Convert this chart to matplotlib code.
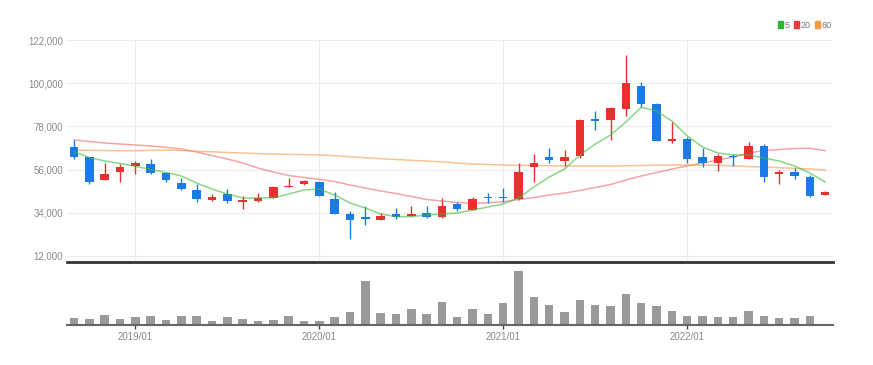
import matplotlib.pyplot as plt
from matplotlib.patches import Patch
from matplotlib.ticker import FuncFormatter

# monthly candles 2018/09 .. 2022/10
opens = [67500, 62300, 50700, 54770, 57830, 58850, 54110, 49320, 45610, 40510,
         43570, 39490, 40000, 41680, 47130, 48660, 49830, 41180, 33220, 31700,
         30330, 33380, 32510, 33740, 31850, 38320, 35420, 42190, 42190, 40870,
         57320, 62260, 60530, 63070, 81770, 81260, 86860, 98570, 89400, 70560,
         71580, 62260, 59200, 63070, 61540, 68020, 53600, 54930, 52070, 43060]
highs = [71100, 62500, 59360, 58700, 60530, 61240, 54930, 51560, 48510, 43420,
         46260, 42550, 43930, 47500, 51870, 50700, 50300, 44740, 34910, 37450,
         33740, 36280, 37450, 37450, 41380, 39650, 42190, 43930, 46480, 59200,
         63790, 66840, 65980, 81920, 85840, 88030, 114360, 100760, 89800, 80090,
         72440, 66840, 63940, 63940, 69900, 68880, 55790, 56660, 53240, 45100]
lows = [61400, 48660, 50450, 49830, 53750, 54000, 49830, 45610, 39340, 40250,
        39140, 36080, 39650, 41500, 46900, 48000, 42300, 33300, 20650, 27780,
        30100, 30680, 32300, 31190, 31500, 35070, 35200, 38830, 39650, 40500,
        49830, 59200, 57830, 62060, 76160, 71070, 83290, 88030, 70400, 69390,
        59200, 57170, 55440, 57830, 61300, 49830, 48510, 51050, 42200, 42900]
closes = [62400, 49830, 53750, 57470, 59200, 54420, 50700, 46260, 41180, 42040,
          40000, 40360, 41680, 47290, 47800, 50190, 42550, 33530, 30330, 30990,
          32510, 32000, 33380, 32000, 37450, 35780, 41020, 41380, 41380, 54620,
          59510, 60890, 62570, 81260, 80900, 87220, 99950, 89400, 70710, 71430,
          61390, 59200, 63070, 62260, 68170, 52070, 54770, 52730, 42550, 44590]
volume = [7.3, 5.7, 10.3, 5.7, 7.7, 9.3, 5.3, 9.0, 8.7, 3.7,
          7.7, 5.7, 3.7, 5.3, 9.0, 3.7, 4.3, 7.7, 12.7, 44.0,
          12.0, 11.0, 16.0, 11.0, 23.5, 7.7, 16.0, 11.0, 22.0, 54.0,
          27.7, 20.0, 12.7, 25.0, 20.0, 19.0, 31.0, 22.3, 19.0, 14.0,
          9.3, 9.3, 7.7, 7.7, 14.0, 9.0, 7.0, 6.7, 9.0, 1.0]
ma5 = [65110, 62160, 60375, 59100, 57675, 56046, 54518, 52735, 49170, 46114,
       43568, 41531, 41531, 41683, 43568, 45605, 46114, 43058, 38984, 36438,
       33382, 32007, 32007, 32872, 33382, 33891, 35419, 36947, 38475, 41531,
       47133, 52226, 56300, 63430, 69033, 73616, 80237, 87724, 85840, 80747,
       73107, 67505, 64449, 63430, 63430, 61903, 60375, 57828, 54263, 49679]
ma20 = [71070, 70306, 69542, 69033, 68523, 68014, 67352, 66486, 64958, 63176,
        61393, 59356, 56810, 54772, 52990, 51971, 51055, 49934, 48151, 46624,
        45096, 43822, 42295, 40767, 40003, 39239, 38832, 39137, 39646, 40767,
        41785, 43058, 44077, 45350, 46878, 48406, 50698, 52735, 54518, 56300,
        57828, 59356, 60884, 62412, 64449, 65722, 66232, 66741, 66843, 65621]
ma60 = [65977, 65824, 65722, 65620, 65620, 65824, 65977, 65722, 65366, 65060,
        64704, 64449, 64144, 63940, 63787, 63634, 63430, 63074, 62514, 62004,
        61546, 61139, 60731, 60375, 59865, 59356, 58847, 58592, 58337, 58185,
        58032, 57930, 57828, 57828, 57828, 57828, 57930, 58083, 58236, 58337,
        58337, 58337, 58185, 57930, 57574, 57319, 56963, 56657, 56300, 55791]
tick_pos = [4, 16, 28, 40]
tick_labels = ['2019/01', '2020/01', '2021/01', '2022/01']
yticks = [12000, 34000, 56000, 78000, 100000, 122000]

RED = '#e8302f'
BLUE = '#1a7ae6'
GRAY_TXT = '#8a8a8a'
plt.rcParams['font.family'] = ['Liberation Sans Narrow', 'Liberation Sans', 'DejaVu Sans']

W, H = 873, 365
fig = plt.figure(figsize=(W / 100, H / 100), dpi=100)
ax = fig.add_axes([67 / W, (H - 262) / H, (833 - 67) / W, (262 - 40) / H])
axv = fig.add_axes([67 / W, (H - 325) / H, (833 - 67) / W, (325 - 266) / H])

x = list(range(len(closes)))
cols = [RED if c >= o else BLUE for o, c in zip(opens, closes)]
ax.vlines(x, lows, highs, colors=cols, linewidth=1, zorder=3)
bottoms = [min(o, c) for o, c in zip(opens, closes)]
heights = [max(abs(c - o), 700) for o, c in zip(opens, closes)]
ax.bar(x, heights, bottom=bottoms, width=0.55, color=cols, zorder=4)

ax.plot(x, ma5, color='#3cba3c', alpha=0.6, lw=1.1, zorder=5)
ax.plot(x, ma20, color='#ee4a4a', alpha=0.5, lw=1.1, zorder=2)
ax.plot(x, ma60, color='#f59a45', alpha=0.6, lw=1.1, zorder=2)

ax.set_xlim(-0.46, 49.51)
ax.set_ylim(8935, 122000)
ax.set_yticks(yticks)
ax.yaxis.set_major_formatter(FuncFormatter(lambda v, p: f'{int(v):,}'))
ax.set_xticks(tick_pos)
ax.set_xticklabels([])
ax.tick_params(length=0, labelsize=7, labelcolor=GRAY_TXT, pad=3)
ax.grid(True, color='#ececec', lw=0.8, zorder=0)
for s in ['top', 'right', 'left']:
    ax.spines[s].set_visible(False)
ax.spines['bottom'].set_color('#333333')
ax.spines['bottom'].set_linewidth(2)

axv.bar(x, volume, width=0.55, color='#9a9a9a', zorder=2)
axv.set_xlim(-0.46, 49.51)
axv.set_ylim(0, 59)
axv.set_yticks([])
axv.set_xticks(tick_pos)
axv.set_xticklabels(tick_labels)
axv.tick_params(axis='x', length=3, width=1, color='#444444', labelsize=7,
                labelcolor=GRAY_TXT, pad=2)
for s in ['top', 'right', 'left']:
    axv.spines[s].set_visible(False)
axv.spines['bottom'].set_color('#666666')
axv.spines['bottom'].set_linewidth(1.5)
axv.spines['bottom'].set_zorder(3)

handles = [Patch(color='#2db52d'), Patch(color='#e53b3b'), Patch(color='#f59b3f')]
fig.legend(handles, ['5', '20', '60'], loc='upper right', bbox_to_anchor=(836 / W, 1 - 16 / H),
           ncol=3, frameon=False, fontsize=6.5, handlelength=0.5, handleheight=0.7,
           handletextpad=0.2, columnspacing=0.5, labelcolor='#777777', borderpad=0)

fig.savefig('out.png', dpi=100)
